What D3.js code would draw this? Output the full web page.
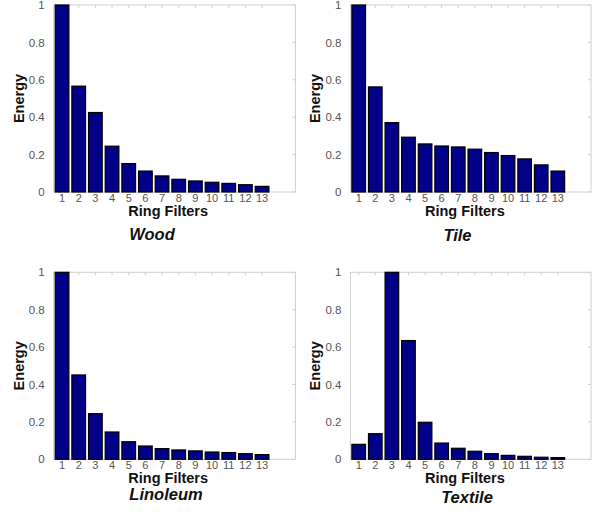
<!DOCTYPE html>
<html>
<head>
<meta charset="utf-8">
<script src="https://cdn.jsdelivr.net/npm/d3@7"></script>
<style>
  body { margin: 0; background: #fff; }
  text { font-family: Arial, "Liberation Sans", sans-serif; }
</style>
</head>
<body>
<svg id="chart" width="598" height="516"></svg>
<script>
// ring filter indices and energies
let filters = [1, 2, 3, 4, 5, 6, 7, 8, 9, 10, 11, 12, 13];
let yTicks = [0, 0.2, 0.4, 0.6, 0.8, 1];

let woodEnergy     = [1.0, 0.566, 0.425, 0.245, 0.152, 0.112, 0.086, 0.068, 0.059, 0.052, 0.046, 0.039, 0.030];
let tileEnergy     = [1.0, 0.562, 0.371, 0.293, 0.257, 0.246, 0.241, 0.229, 0.211, 0.195, 0.177, 0.145, 0.112];
let linoleumEnergy = [1.0, 0.451, 0.244, 0.146, 0.094, 0.071, 0.057, 0.050, 0.045, 0.039, 0.036, 0.030, 0.025];
let textileEnergy  = [0.080, 0.137, 1.0, 0.635, 0.198, 0.087, 0.059, 0.043, 0.030, 0.021, 0.016, 0.011, 0.009];

let titles = ["Wood", "Tile", "Linoleum", "Textile"];
let xLabel = "Ring Filters";
let yLabel = "Energy";

let svg = d3.select("svg#chart");

// panel boxes (pixel layout)
let panels = [
    {values: woodEnergy,     left: 53.7,  right: 295.4, top: 5,     bottom: 192,   titleX: 152,   titleY: 240, tickY: 202, xlabY: 216, ylabX: 19},
    {values: tileEnergy,     left: 350.4, right: 591,   top: 5,     bottom: 192,   titleX: 457.5, titleY: 241, tickY: 202, xlabY: 216, ylabX: 315},
    {values: linoleumEnergy, left: 53.7,  right: 295.4, top: 272.3, bottom: 459.3, titleX: 166,   titleY: 500, tickY: 469, xlabY: 483, ylabX: 19},
    {values: textileEnergy,  left: 350.4, right: 591,   top: 272.3, bottom: 459.3, titleX: 467,   titleY: 503, tickY: 469, xlabY: 483, ylabX: 315}
];

const barColor = "#000088";
const boxColor = "#cfcfcf";
const tickColor = "#555";
const barWidth = 0.82;

panels.forEach((p, i) => {
    let g = svg.append("g").attr("class", "panel");

    let x = d3.scaleLinear().domain([0.5, 15]).range([p.left, p.right]);
    let y = d3.scaleLinear().domain([0, 1]).range([p.bottom, p.top]);

    // axes box
    g.append("rect")
        .attr("x", p.left).attr("y", p.top)
        .attr("width", p.right - p.left).attr("height", p.bottom - p.top)
        .attr("fill", "none").attr("stroke", boxColor).attr("stroke-width", 1);

    // faint inner ticks on top and right edges
    g.selectAll("line.tt").data(filters).join("line")
        .attr("class", "tt")
        .attr("x1", d => x(d)).attr("x2", d => x(d))
        .attr("y1", p.top).attr("y2", p.top + 3)
        .attr("stroke", boxColor);
    g.selectAll("line.rt").data(yTicks).join("line")
        .attr("class", "rt")
        .attr("x1", p.right).attr("x2", p.right - 3)
        .attr("y1", d => y(d)).attr("y2", d => y(d))
        .attr("stroke", boxColor);

    // bars
    g.selectAll("rect.bar").data(p.values).join("rect")
        .attr("class", "bar")
        .attr("x", (d, j) => x(filters[j] - barWidth / 2))
        .attr("width", x(barWidth) - x(0))
        .attr("y", d => y(d))
        .attr("height", d => y(0) - y(d))
        .attr("fill", barColor)
        .attr("stroke", "#000")
        .attr("stroke-width", 1.2);

    // y axis
    let leftAxis = d3.axisLeft(y).tickValues(yTicks).tickSize(0).tickPadding(9).tickFormat(d3.format(""));
    let ya = g.append("g").attr("transform", `translate(${p.left},0)`).call(leftAxis);
    ya.select(".domain").remove();
    ya.selectAll("text").attr("fill", tickColor).style("font-size", "11.5px");

    // x tick labels
    g.selectAll("text.xt").data(filters).join("text")
        .attr("class", "xt")
        .attr("x", d => x(d)).attr("y", p.tickY)
        .attr("text-anchor", "middle")
        .attr("fill", tickColor)
        .style("font-size", "11px")
        .text(d => d);

    g.append("text")
        .attr("x", p.left + 114.5).attr("y", p.xlabY)
        .attr("text-anchor", "middle")
        .style("font-size", "14.5px").style("font-weight", "bold")
        .attr("fill", "#111")
        .text(xLabel);

    g.append("text")
        .attr("transform", `translate(${p.ylabX},${(p.top + p.bottom) / 2}) rotate(-90)`)
        .attr("text-anchor", "middle")
        .attr("dy", "0.35em")
        .style("font-size", "14.5px").style("font-weight", "bold")
        .attr("fill", "#111")
        .text(yLabel);

    g.append("text")
        .attr("x", p.titleX).attr("y", p.titleY)
        .attr("text-anchor", "middle")
        .style("font-size", "16.5px").style("font-weight", "bold").style("font-style", "italic")
        .attr("fill", "#111")
        .text(titles[i]);
});
</script>
</body>
</html>
